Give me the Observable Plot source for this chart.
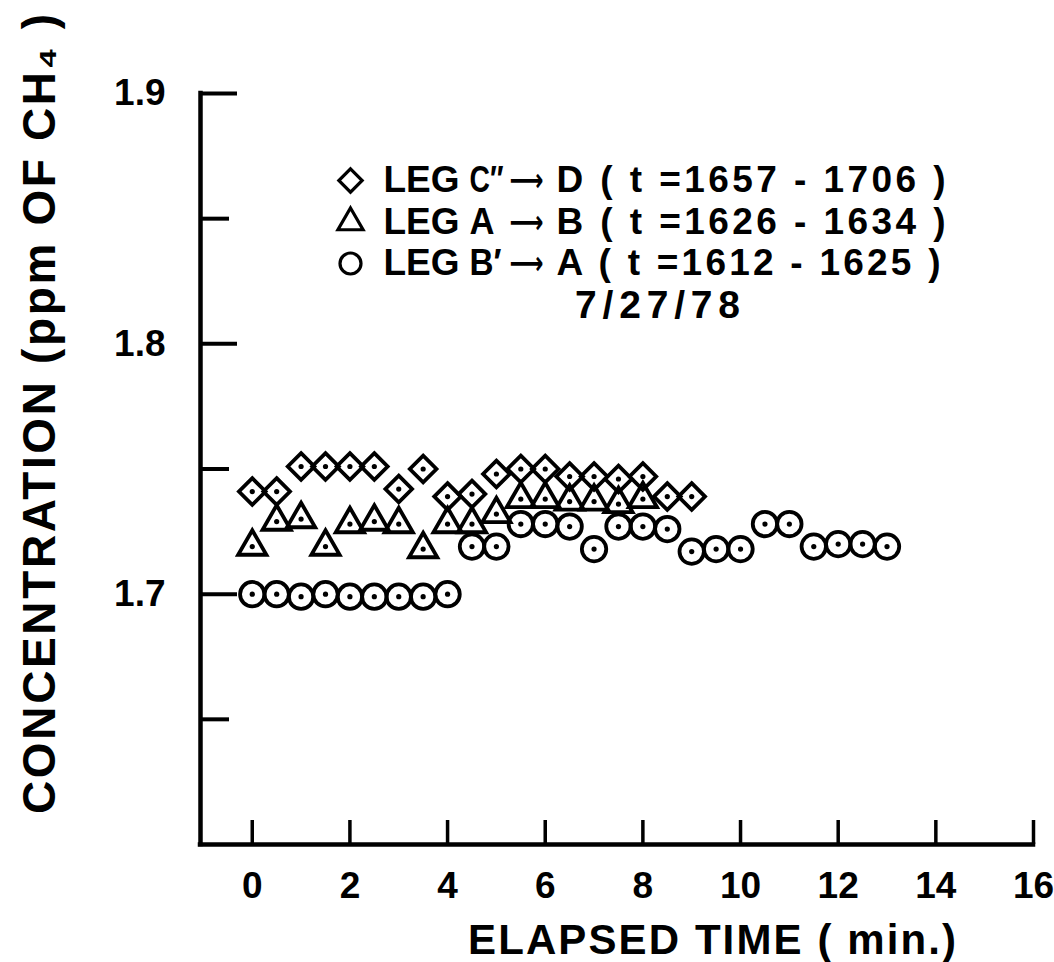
<!DOCTYPE html>
<html>
<head>
<meta charset="utf-8">
<script src="https://cdn.jsdelivr.net/npm/d3@7"></script>
<script src="https://cdn.jsdelivr.net/npm/@observablehq/plot@0.6"></script>
<style>
  html, body { margin: 0; padding: 0; background: #fff; }
  #chart svg text { white-space: pre; }
</style>
</head>
<body>
<div id="chart"></div>
<script>
// ---- scales / ticks ----
const xDomain = [-1.06, 16];
const yDomain = [1.6, 1.9];
const xTicks = [0, 2, 4, 6, 8, 10, 12, 14, 16];
const yTicksMajor = [1.7, 1.8, 1.9];
const yTicksMinor = [1.65, 1.75, 1.85];

// ---- series: LEG C'' -> D (diamonds) ----
const legCTime = [0, 0.5, 1, 1.5, 2, 2.5, 3, 3.5, 4, 4.5, 5, 5.5, 6, 6.5, 7, 7.5, 8, 8.5, 9];
const legCConc = [1.741, 1.741, 1.751, 1.751, 1.751, 1.751, 1.742, 1.750, 1.739, 1.740, 1.748, 1.750, 1.750, 1.747, 1.747, 1.746, 1.747, 1.739, 1.739];

// ---- series: LEG A -> B (triangles) ----
const legATime = [0, 0.5, 1, 1.5, 2, 2.5, 3, 3.5, 4, 4.5, 5, 5.5, 6, 6.5, 7, 7.5, 8];
const legAConc = [1.719, 1.729, 1.730, 1.719, 1.728, 1.729, 1.728, 1.718, 1.728, 1.728, 1.732, 1.738, 1.738, 1.737, 1.737, 1.736, 1.738];

// ---- series: LEG B' -> A (circles) ----
const legBTime = [0, 0.5, 1, 1.5, 2, 2.5, 3, 3.5, 4, 4.5, 5, 5.5, 6, 6.5, 7, 7.5, 8, 8.5, 9, 9.5, 10, 10.5, 11, 11.5, 12, 12.5, 13];
const legBConc = [1.700, 1.700, 1.699, 1.700, 1.699, 1.699, 1.699, 1.699, 1.700, 1.719, 1.719, 1.728, 1.728, 1.727, 1.718, 1.727, 1.727, 1.726, 1.717, 1.718, 1.718, 1.728, 1.728, 1.719, 1.720, 1.720, 1.719];

// ---- texts ----
const legendSymbols = ["diamond2", "triangle2", "circle"];
const legendLeg = ["LEG", "LEG", "LEG"];
const legendFrom = ["C\u2033", "A", "B\u2032"];
const legendArrow = ["\u27F6", "\u27F6", "\u27F6"];
const legendTo = ["D ( t =1657 - 1706 )", "B ( t =1626 - 1634 )", "A ( t =1612 - 1625 )"];
const dateLabel = "7/27/78";
const xLabel = "ELAPSED TIME ( min.)";
const yLabel = "CONCENTRATION (ppm OF CH\u2084 )";

// ---- layout ----
const W = 1054, H = 962;
const mL = 200, mR = 21, mT = 93, mB = 118;
const pw = W - mL - mR, ph = H - mT - mB;
const font = "'Liberation Sans', Arial, sans-serif";

const series = [
  {time: legCTime, conc: legCConc, symbol: "diamond2", r: 12},
  {time: legATime, conc: legAConc, symbol: "triangle2", r: 13.5},
  {time: legBTime, conc: legBConc, symbol: "circle", r: 12.2}
];

const tag = name => () => name;

const marks = [
  // frame lines
  Plot.ruleX([xDomain[0]], {strokeWidth: 4.5, strokeLinecap: "square"}),
  Plot.ruleY([yDomain[0]], {strokeWidth: 4.5, strokeLinecap: "square"}),
  // inward ticks
  Plot.tickX(xTicks, {x: d => d, insetTop: ph - 24, strokeWidth: 3.5}),
  Plot.tickY(yTicksMajor, {y: d => d, insetRight: pw - 37, strokeWidth: 4}),
  Plot.tickY(yTicksMinor, {y: d => d, insetRight: pw - 29, strokeWidth: 4}),
  // tick labels
  Plot.axisX(xTicks, {tickSize: 0, tickPadding: 27, fontSize: 37, fontWeight: "bold", label: null, tickFormat: d => String(d)}),
  Plot.axisY(yTicksMajor, {tickSize: 0, tickPadding: 35, fontSize: 37, fontWeight: "bold", label: null, tickFormat: d => d.toFixed(1)}),
];

for (const s of series) {
  const data = s.time.map((t, i) => ({t, c: s.conc[i]}));
  marks.push(Plot.dot(data, {x: "t", y: "c", symbol: () => s.symbol, r: s.r, stroke: "black", strokeWidth: 3.8, fill: "none"}));
  marks.push(Plot.dot(data, {x: "t", y: "c", r: 2.6, fill: "black"}));
}

// legend
const rowDy = [87, 129, 170];
const toDx = [356, 356, 356];
const toLen = [389, 389, 384];
const fromLen = [34, 25, 32];
for (let i = 0; i < 3; i++) {
  const sym = legendSymbols[i];
  marks.push(Plot.dot([sym], {frameAnchor: "top-left", dx: 150, dy: rowDy[i], symbol: d => d, r: sym === "diamond2" ? 10.5 : sym === "triangle2" ? 12 : 10.5, stroke: "black", strokeWidth: 3.2, fill: "none"}));
  const common = {frameAnchor: "top-left", dy: rowDy[i], textAnchor: "start", lineAnchor: "middle", fontSize: 37, fontWeight: "bold", text: d => d};
  marks.push(Plot.text([legendLeg[i]], {...common, dx: 183}));
  marks.push(Plot.text([legendFrom[i]], {...common, dx: 269, ariaLabel: tag("legfrom" + i)}));
  marks.push(Plot.text([legendArrow[i]], {...common, dx: 309, fontSize: 32, fontFamily: "DejaVu Sans", ariaLabel: tag("legarrow")}));
  marks.push(Plot.text([legendTo[i]], {...common, dx: toDx[i], ariaLabel: tag("legto" + i)}));
}
marks.push(Plot.text([dateLabel], {frameAnchor: "top-left", dx: 457, dy: 212, textAnchor: "middle", lineAnchor: "middle", fontSize: 39, fontWeight: "bold", text: d => d, ariaLabel: tag("date")}));

// axis titles
marks.push(Plot.text([xLabel], {frameAnchor: "bottom", dx: 95, dy: 96, textAnchor: "middle", lineAnchor: "middle", fontSize: 42, fontWeight: "bold", text: d => d, ariaLabel: tag("xlabel")}));
marks.push(Plot.text([yLabel], {frameAnchor: "left", dx: -160, dy: -55, rotate: -90, textAnchor: "middle", lineAnchor: "middle", fontSize: 46, fontWeight: "bold", text: d => d, ariaLabel: tag("ylabel")}));

const chart = Plot.plot({
  width: W, height: H,
  marginLeft: mL, marginRight: mR, marginTop: mT, marginBottom: mB,
  x: {domain: xDomain},
  y: {domain: yDomain},
  style: {fontFamily: font, background: "white", color: "black", overflow: "visible"},
  marks
});
document.getElementById("chart").append(chart);

// stretch lettering to the reference widths
function fit(label, len, adjust = "spacing") {
  chart.querySelectorAll(`[aria-label="${label}"]`).forEach(el => {
    const texts = el.tagName.toLowerCase() === "text" ? [el] : el.querySelectorAll("text");
    texts.forEach(t => {
      t.setAttribute("textLength", len);
      t.setAttribute("lengthAdjust", adjust);
    });
  });
}
fit("ylabel", 800);
fit("xlabel", 488);
fit("date", 165);
fit("legarrow", 34, "spacingAndGlyphs");
for (let i = 0; i < 3; i++) {
  fit("legto" + i, toLen[i]);
  fit("legfrom" + i, fromLen[i], "spacingAndGlyphs");
}
</script>
</body>
</html>
